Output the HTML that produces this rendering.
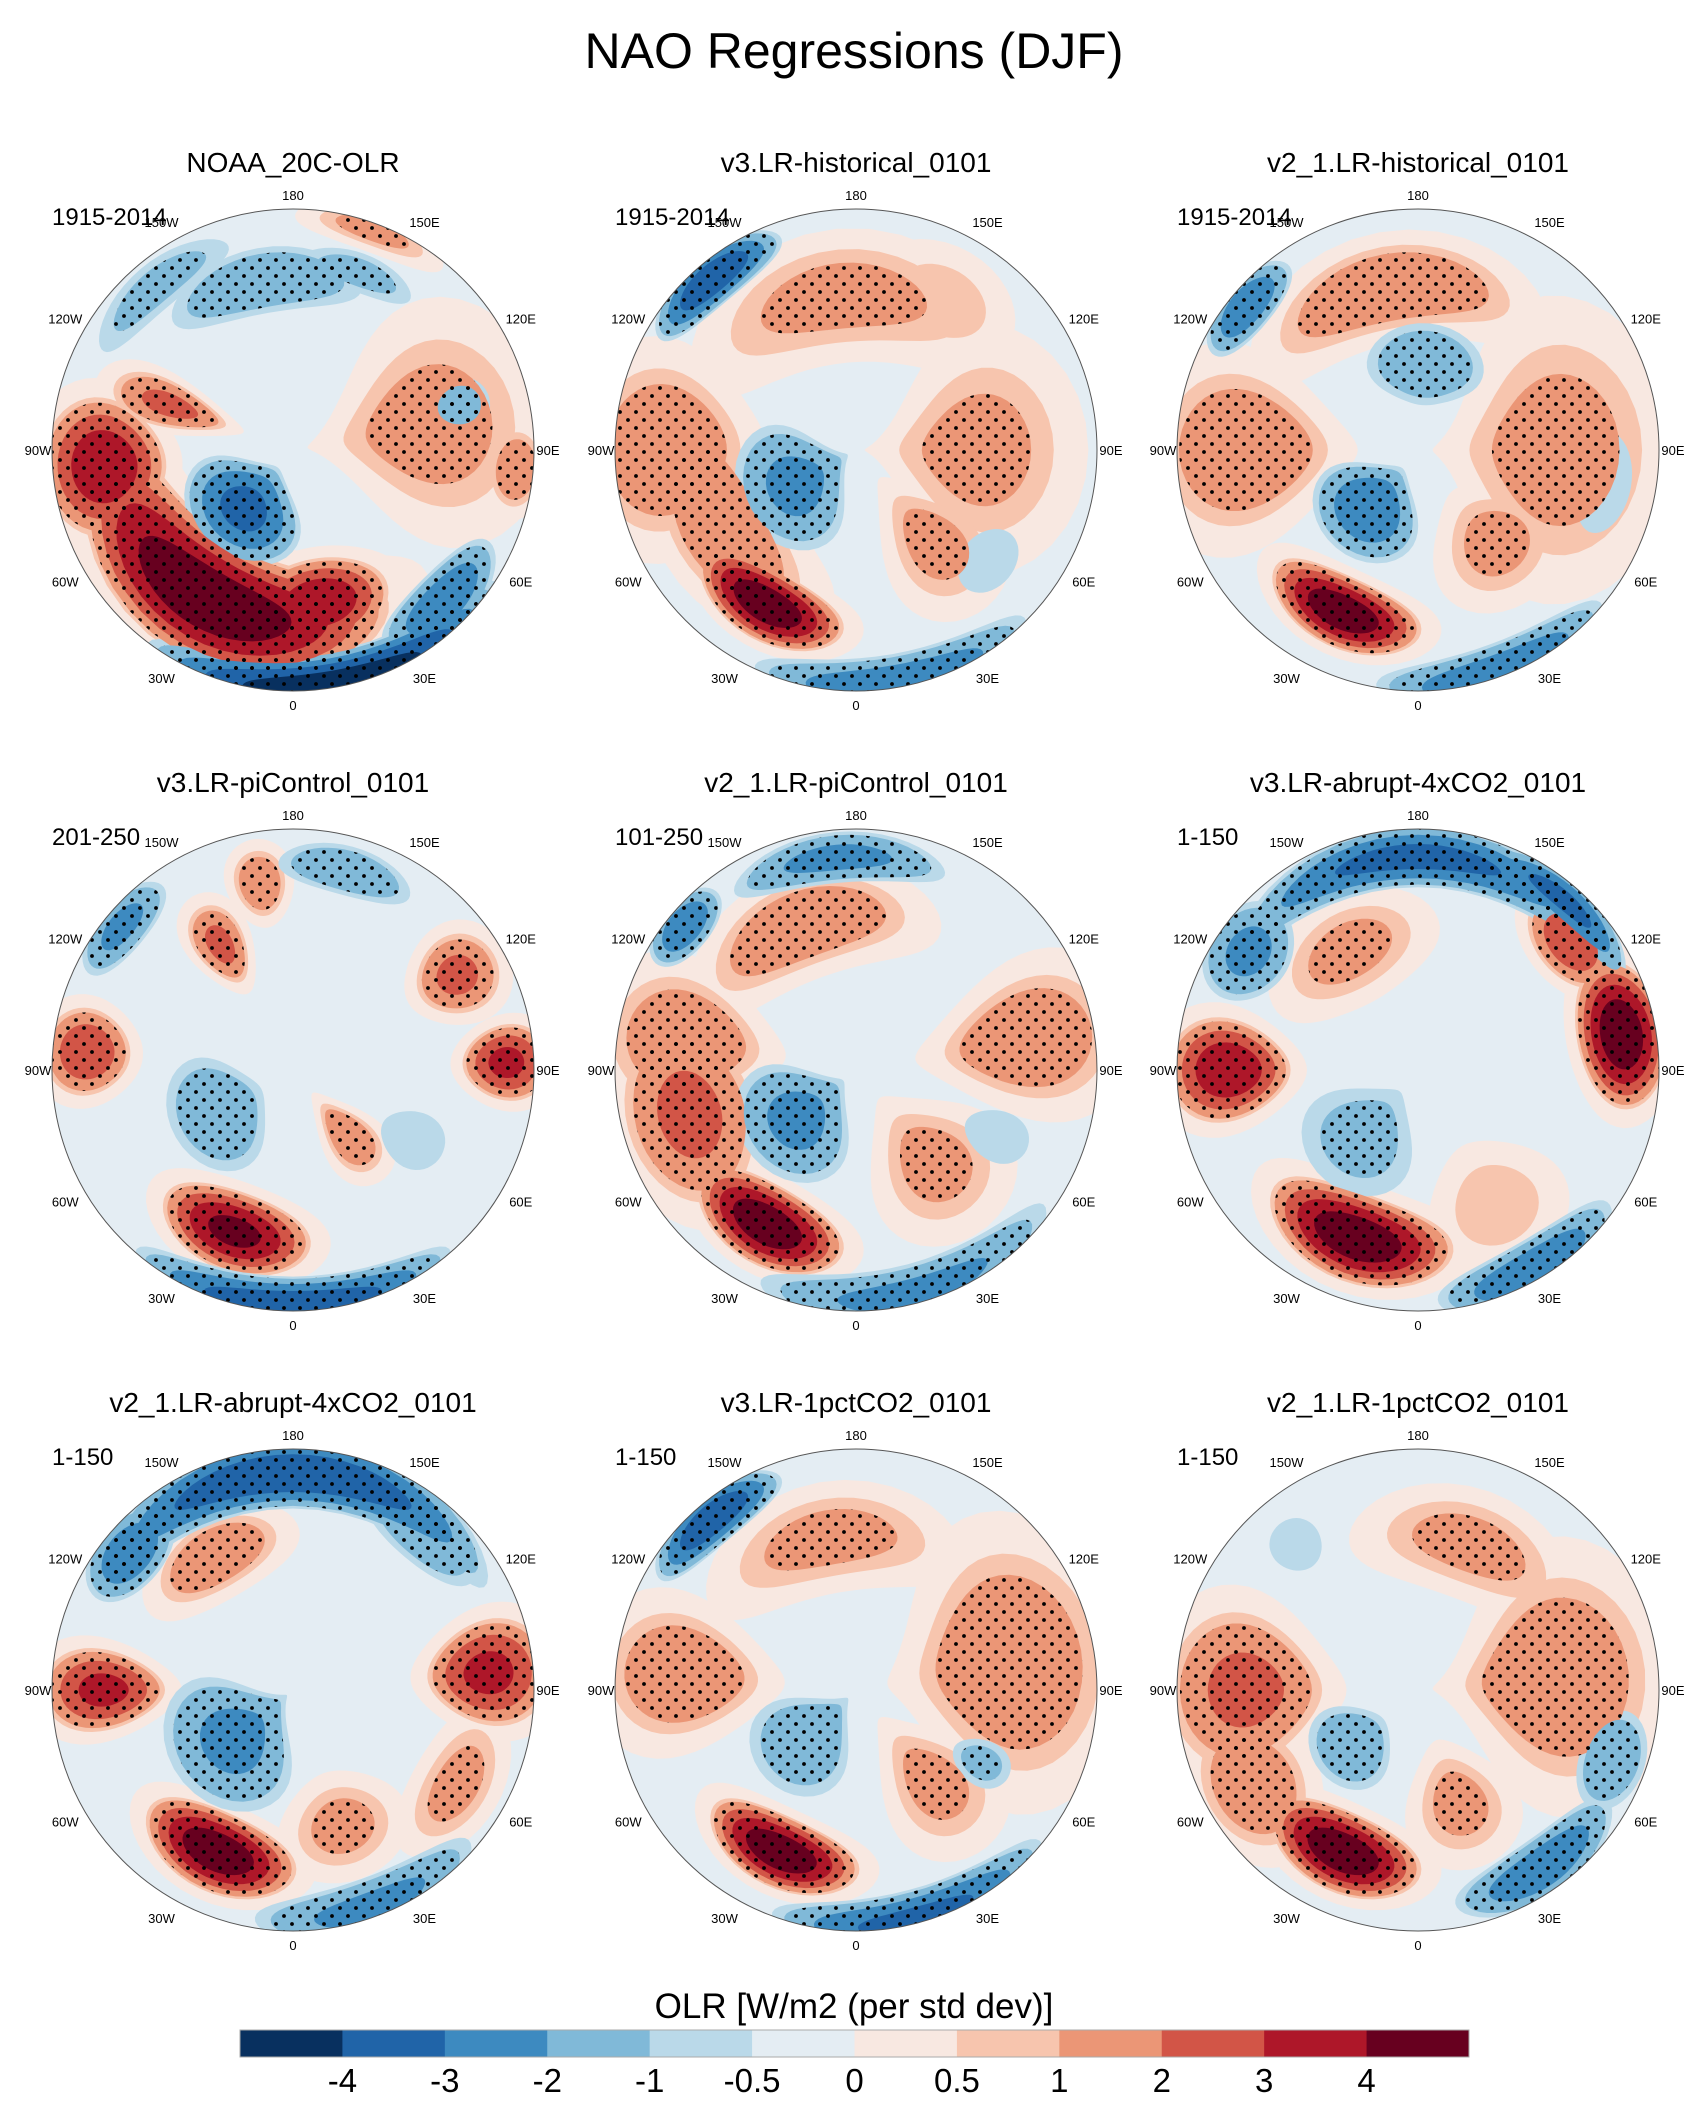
<!DOCTYPE html>
<html><head><meta charset="utf-8"><style>
body{margin:0;background:#fff}
svg{display:block}
text{font-family:"Liberation Sans",sans-serif}
</style></head><body>
<svg id="fig" width="1708" height="2122" viewBox="0 0 1708 2122">
<defs>
<pattern id="stip" width="16" height="16" patternUnits="userSpaceOnUse">
<circle cx="4" cy="4" r="1.9" fill="#000"/><circle cx="12" cy="12" r="1.9" fill="#000"/>
</pattern>
</defs>
<text x="854" y="68" font-size="50" text-anchor="middle">NAO Regressions (DJF)</text>
<g id="panels"></g>
<text x="854" y="2018" font-size="35" text-anchor="middle">OLR [W/m2 (per std dev)]</text>
<g id="cbar"></g>
</svg>
<script>
const levelColors=['#08305f','#2064a8','#3d8ac0','#80b9d8','#bad9e9','#e4edf3','#f8e8e1','#f7c5ae','#eb9676','#d25547','#ae1729','#67001f'];
const levelTicks=['-4','-3','-2','-1','-0.5','0','0.5','1','2','3','4'];
const thresholds=[0,0.5,1,2,3,4];
const panelTitles=['NOAA_20C-OLR','v3.LR-historical_0101','v2_1.LR-historical_0101','v3.LR-piControl_0101','v2_1.LR-piControl_0101','v3.LR-abrupt-4xCO2_0101','v2_1.LR-abrupt-4xCO2_0101','v3.LR-1pctCO2_0101','v2_1.LR-1pctCO2_0101'];
const panelPeriods=['1915-2014','1915-2014','1915-2014','201-250','101-250','1-150','1-150','1-150','1-150'];
// anomaly centres: [lon, lat, lon half-width (deg), lat half-width (deg), peak value]
const panelBlobs=[
[[-30,40,60,14,5],[10,45,25,10,4],[-85,35,20,14,4],[-110,52,10,14,2.5],[-40,68,45,12,-3.5],[10,20,45,8,-5],[45,28,20,7,-3],[100,50,35,22,1.6],[85,25,10,6,2],[-170,40,35,8,-2],[160,35,20,5,-1.5],[-140,28,25,6,-1.5],[105,40,10,8,-1.5],[160,22,15,4,1.5]],
[[-30,38,25,8,5],[-60,45,40,12,2],[-90,35,25,18,2],[-175,45,50,12,1.5],[150,40,20,10,1],[-60,70,50,14,-2.5],[90,55,40,20,1.5],[40,55,20,15,1.5],[10,21,35,7,-3],[-140,25,20,6,-4],[50,40,15,8,-1]],
[[-25,38,25,8,5],[-90,40,25,20,2],[-170,42,45,10,2],[90,50,45,22,1.6],[40,55,25,12,1.5],[-40,68,40,12,-3],[175,65,40,10,-2],[20,21,30,7,-3],[-130,25,15,6,-3],[80,35,20,8,-1]],
[[-20,40,25,9,4.5],[-95,30,12,10,3],[92,28,10,10,3.5],[-150,48,10,10,2.5],[-170,35,8,8,2],[40,65,15,10,2],[120,35,12,10,2.5],[0,21,40,7,-4],[-60,65,40,12,-2],[165,30,20,6,-2],[-130,25,15,6,-2.5],[60,50,15,10,-1]],
[[-30,38,25,9,5],[-75,40,30,15,2.5],[-100,40,20,18,2],[-160,45,40,10,2],[100,40,20,20,2],[40,55,25,15,1.5],[-50,68,45,14,-2.5],[15,23,40,7,-2.5],[-175,28,30,6,-2.5],[-130,25,12,6,-3],[65,45,12,10,-1]],
[[-20,38,30,10,5],[-90,35,15,14,4],[100,30,20,10,5],[130,32,15,8,3],[-150,50,30,10,1.5],[-180,28,55,7,-3.5],[140,25,25,5,-3.5],[-40,65,40,15,-1.5],[30,23,25,7,-3],[-125,30,15,10,-2.5],[30,45,20,12,1]],
[[-25,38,25,9,5],[-90,35,12,14,3.5],[95,33,15,14,3.5],[-150,45,25,8,2],[60,35,20,8,1.5],[20,48,20,10,1.5],[180,27,60,8,-4],[-130,28,15,8,-3],[-50,68,50,16,-2.5],[20,23,30,7,-2.5],[140,30,20,8,-2]],
[[-25,38,25,8,5],[-95,40,20,18,2],[100,45,40,22,2],[40,55,20,15,1.5],[-170,45,40,10,1.5],[-45,70,40,14,-2],[-140,25,20,6,-4],[15,21,35,7,-3.5],[60,48,10,8,-1.5]],
[[-25,38,25,9,5],[-90,40,25,18,2.5],[-60,35,20,12,2],[95,50,40,22,2],[160,45,35,10,1.5],[20,55,20,12,1.5],[-50,65,30,10,-2],[35,27,25,7,-3],[70,30,15,8,-2],[-140,35,10,8,-1]]
];
const lonLabels=['0','30E','60E','90E','120E','150E','180','150W','120W','90W','60W','30W'];
const NS='http://www.w3.org/2000/svg';
const R=241, colX=[293,856,1418], rowY=[450,1070,1690], latEdge=20, latScale=1.25;
function mk(t,a,p){const e=document.createElementNS(NS,t);for(const k in a)e.setAttribute(k,a[k]);p.appendChild(e);return e;}
function proj(cx,cy,lon,lat){const rr=R*(90-lat)/(90-latEdge),a=lon*Math.PI/180;return [cx+rr*Math.sin(a),cy+rr*Math.cos(a)];}
function shape(cx,cy,b,s){
  let pts=[];
  for(let k=0;k<48;k++){const t=k/48*2*Math.PI;
    const lon=b[0]+b[2]*s*Math.cos(t), lat=b[1]+b[3]*latScale*s*Math.sin(t);
    const p=proj(cx,cy,lon,Math.min(lat,89.5));pts.push(p[0].toFixed(1)+','+p[1].toFixed(1));}
  return pts.join(' ');
}
function colorFor(v,t){const i=thresholds.indexOf(t);return v>0?6+i:5-i;}
const panels=document.getElementById('panels');
panelTitles.forEach((title,p)=>{
  const cx=colX[p%3], cy=rowY[Math.floor(p/3)];
  const g=mk('g',{},panels);
  
  
  const t=mk('text',{x:cx,y:cy-278,'font-size':28,'text-anchor':'middle'},g);t.textContent=title;
  
  
  const pr=mk('text',{x:cx-241,y:cy-225,'font-size':24},g);pr.textContent=panelPeriods[p];
  
  
  const cp=mk('clipPath',{id:'clip'+p},g);mk('circle',{cx:cx,cy:cy,r:R},cp);
  const mg=mk('g',{'clip-path':'url(#clip'+p+')'},g);
  
  
  mk('rect',{x:cx-R,y:cy-R,width:2*R,height:2*R,fill:levelColors[5]},mg);
  const blobs=panelBlobs[p];
  thresholds.forEach(th=>{
    blobs.forEach(b=>{
      const v=b[4];if(Math.abs(v)<=th)return;
      if(v<0&&th===0)return;
      const s=th===0?1.3:Math.sqrt(1-th/Math.abs(v))*1.1;
      const c=mk('polygon',{points:shape(cx,cy,b,s),fill:levelColors[colorFor(v,th)]},mg);
      
      
    });
  });
  blobs.forEach(b=>{
    const v=b[4];if(Math.abs(v)<1.4)return;
    const s=Math.sqrt(1-1/Math.abs(v))*1.1;
    const st=mk('polygon',{points:shape(cx,cy,b,s),fill:'url(#stip)'},mg);
    
    
  });
  const bd=mk('circle',{cx:cx,cy:cy,r:R,fill:'none',stroke:'#555','stroke-width':1},g);
  
  
  lonLabels.forEach((lb,i)=>{
    const a=i*30*Math.PI/180, rr=R+(i%3===0?14:22);
    const tx=mk('text',{x:cx+rr*Math.sin(a),y:cy+rr*Math.cos(a)+5,'font-size':13,'text-anchor':'middle'},g);
    tx.textContent=lb;
    
    
  });
});
const cb=document.getElementById('cbar'), x0=240, x1=1469, w=(x1-x0)/levelColors.length;
levelColors.forEach((c,i)=>{
  const r=mk('rect',{x:x0+i*w,y:2030,width:w+0.5,height:27,fill:c},cb);
  
  
});
mk('rect',{x:x0,y:2030,width:x1-x0,height:27,fill:'none',stroke:'#aaa','stroke-width':1},cb);
levelTicks.forEach((lb,i)=>{
  const t=mk('text',{x:x0+(i+1)*w,y:2092,'font-size':33,'text-anchor':'middle'},cb);
  t.textContent=lb;
  
  
});
</script>
</body></html>
